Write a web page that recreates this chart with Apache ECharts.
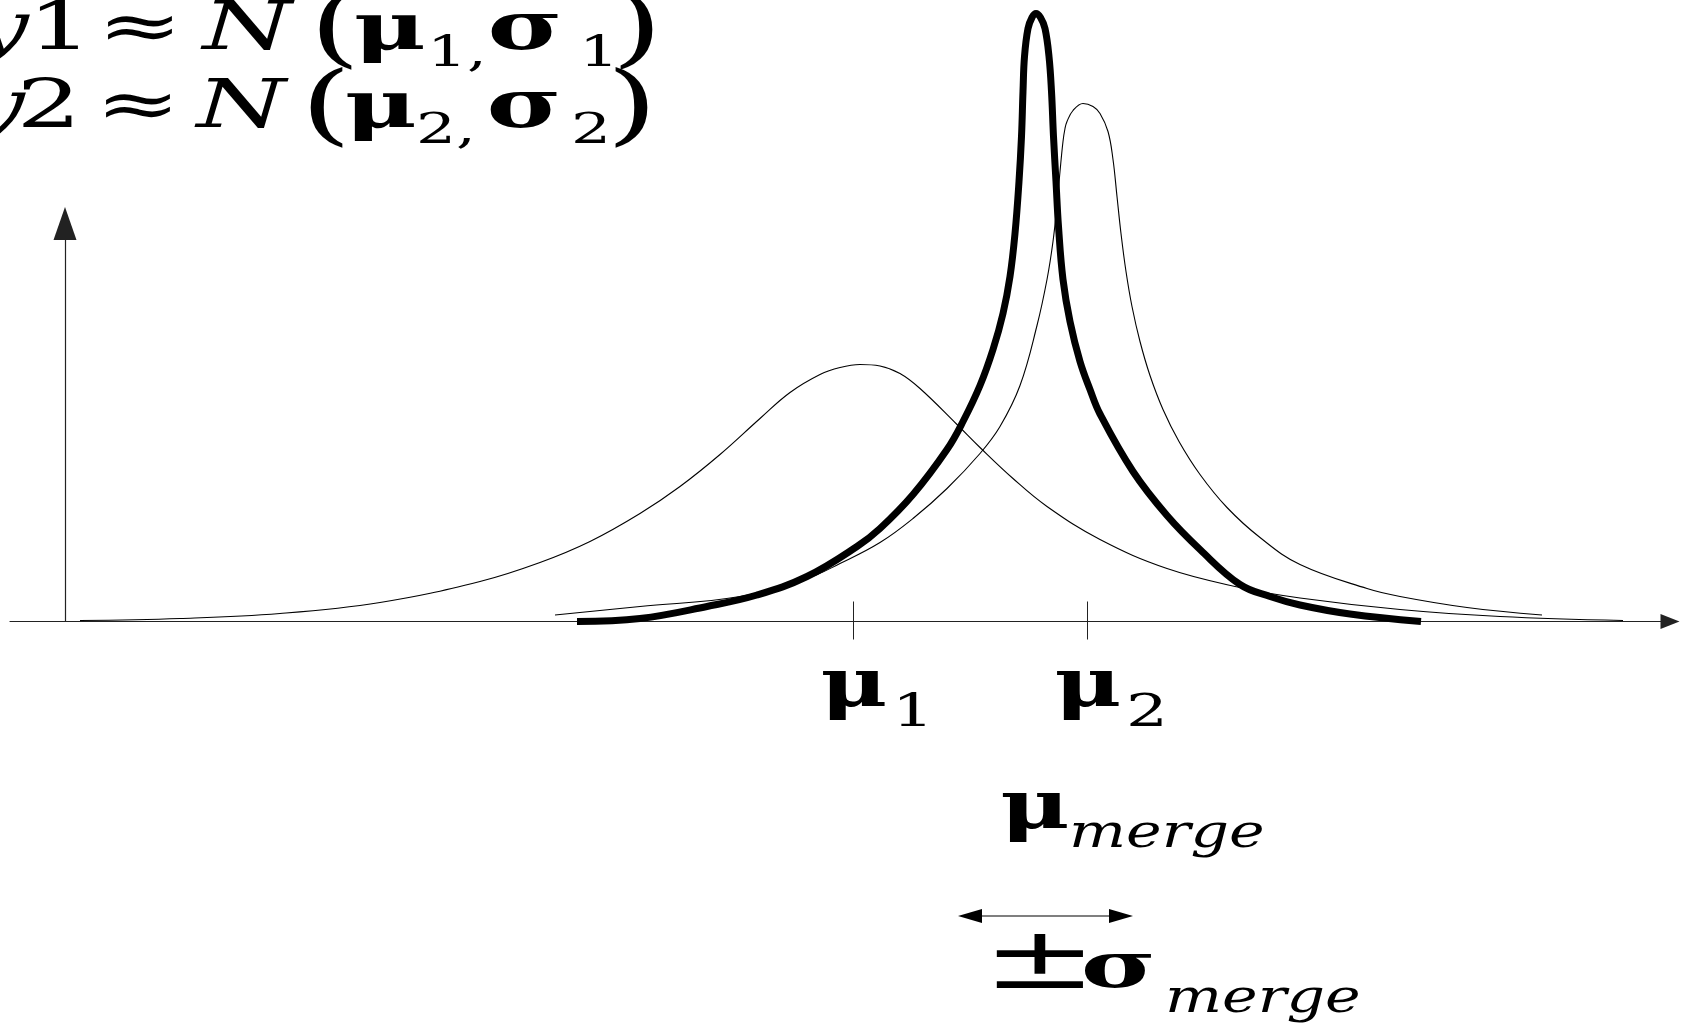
<!DOCTYPE html>
<html><head><meta charset="utf-8">
<script src="https://cdn.jsdelivr.net/npm/echarts@6/dist/echarts.min.js"></script>
<style>html,body{margin:0;padding:0;background:#fff;overflow:hidden}#c{width:1681px;height:1023px}</style>
</head><body><div id="c"></div>
<script>
// ---- data (x: arbitrary units along the axis, y: density) ----
const curve1X = [1.5, 11.5, 21.5, 31.5, 41.5, 47.5, 52.5, 57.5, 61.5, 65.5, 69.5, 72.5, 75.5, 77.5, 79.5, 81.5, 83.5, 85.5, 89.2, 91.5, 94.8, 98.2, 103.5, 110.2, 117.5, 123.5, 133.5, 143.5, 155.8];
const curve1Y = [0.01, 0.03, 0.08, 0.19, 0.40, 0.59, 0.80, 1.08, 1.35, 1.67, 2.03, 2.29, 2.47, 2.54, 2.57, 2.555, 2.48, 2.33, 1.97, 1.74, 1.43, 1.15, 0.82, 0.53, 0.34, 0.235, 0.12, 0.05, 0.01];

const curve2X = [49.0, 57.5, 67.5, 74.2, 77.5, 81.5, 84.8, 88.2, 91.5, 93.5, 95.5, 97.2, 98.2, 98.8, 99.2, 99.5, 99.8, 100.0, 100.2, 100.8, 101.8, 102.8, 103.5, 104.3, 104.8, 105.2, 105.6, 106.1, 106.7, 107.5, 108.5, 109.8, 111.4, 113.5, 116.2, 119.5, 123.5, 130.2, 133.5, 140.2, 147.7];
const curve2Y = [0.065, 0.15, 0.25, 0.43, 0.58, 0.79, 1.03, 1.33, 1.68, 1.95, 2.36, 2.96, 3.42, 3.80, 4.17, 4.50, 4.80, 4.93, 5.00, 5.11, 5.18, 5.15, 5.08, 4.90, 4.62, 4.25, 3.88, 3.50, 3.15, 2.80, 2.46, 2.12, 1.80, 1.47, 1.14, 0.84, 0.57, 0.33, 0.25, 0.14, 0.065];

const mergeX = [51.2, 57.5, 64.2, 69.2, 74.2, 79.2, 81.5, 84.8, 88.2, 89.8, 91.5, 92.8, 93.8, 94.5, 95.0, 95.4, 95.65, 95.8, 95.95, 96.3, 96.7, 97.1, 97.55, 98.0, 98.4, 98.65, 98.85, 99.1, 99.35, 99.8, 100.5, 101.5, 102.5, 103.5, 106.8, 110.2, 113.5, 117.5, 120.5, 123.5, 128.5, 135.6];
const mergeY = [0.0, 0.03, 0.15, 0.265, 0.45, 0.75, 0.93, 1.27, 1.72, 2.00, 2.36, 2.72, 3.08, 3.45, 3.88, 4.40, 4.85, 5.30, 5.65, 5.93, 6.04, 6.08, 6.04, 5.93, 5.65, 5.30, 4.85, 4.40, 3.95, 3.42, 3.00, 2.60, 2.32, 2.075, 1.50, 1.06, 0.72, 0.37, 0.25, 0.165, 0.075, 0.0];

const tickValues = [78.8, 102.2];
const tickSubscripts = ['1', '2'];

// ---- chart ----
function pairs(xs, ys) { return xs.map((x, i) => [x, ys[i]]); }
const SERIF = '"DejaVu Serif", "Liberation Serif", serif';

function txt(text, cx, baseline, size, italic, bold, sx, align) {
  return {
    type: 'text', x: cx, y: baseline - 0.346 * size, scaleX: sx || 1, silent: true,
    style: {
      text: text, fill: '#000',
      font: (italic ? 'italic ' : '') + (bold ? 'bold ' : '') + size + 'px ' + SERIF,
      align: align || 'center', textAlign: align || 'center',
      verticalAlign: 'middle', textVerticalAlign: 'middle'
    }
  };
}

const S = 1.5;
const graphics = [
  // line 1
  txt('y', 0, 55, 68, true, false, S),
  txt('1', 60, 55, 68, false, false, S),
  txt('≈', 140, 55, 68, false, false, S),
  txt('N', 247, 55, 68, true, false, S),
  txt('(', 335, 63.4, 88, false, false, S),
  txt('μ', 390, 55, 66, false, true, S),
  txt('1,', 457, 70, 42, false, false, S),
  txt('σ', 525, 55, 68, false, true, S),
  txt('1', 599, 70, 42, false, false, S),
  txt(')', 637, 63.4, 88, false, false, S),
  // line 2
  txt('y', -4, 133, 68, true, false, S),
  txt('2', 49, 133, 68, false, false, S),
  txt('≈', 138, 133, 68, false, false, S),
  txt('N', 241, 133, 68, true, false, S),
  txt('(', 326, 141.4, 88, false, false, S),
  txt('μ', 381, 133, 66, false, true, S),
  txt('2,', 446, 147, 42, false, false, S),
  txt('σ', 524, 133, 68, false, true, S),
  txt('2', 591, 147, 42, false, false, S),
  txt(')', 632, 141.4, 88, false, false, S),
  // mu merge
  txt('μ', 1035, 834, 68, false, true, 1.4),
  txt('merge', 1069, 851, 47, true, false, 1.28, 'left'),
  // double arrow
  { type: 'line', silent: true, shape: { x1: 978, y1: 916, x2: 1113, y2: 916 }, style: { stroke: '#000', lineWidth: 1.2 } },
  { type: 'polygon', silent: true, shape: { points: [[958, 916], [982, 909], [982, 923]] }, style: { fill: '#000' } },
  { type: 'polygon', silent: true, shape: { points: [[1133, 916], [1109, 909], [1109, 923]] }, style: { fill: '#000' } },
  // ± sigma merge
  txt('±', 1040, 995, 86, false, false, 1.6),
  txt('σ', 1118.5, 993, 64, false, true, 1.6),
  txt('merge', 1165, 1016, 47, true, false, 1.28, 'left')
];

const chart = echarts.init(document.getElementById('c'), null, { renderer: 'canvas' });
chart.setOption({
  animation: false,
  backgroundColor: '#fff',
  grid: { left: 10, right: 11, top: 223.5, bottom: 401.5, containLabel: false },
  xAxis: [
    {
      type: 'value', min: -5.5, max: 160.5,
      splitLine: { show: false },
      axisLine: { show: true, onZero: true, lineStyle: { color: '#222', width: 1.2 }, symbol: ['none', 'triangle'], symbolSize: [15, 19] },
      axisTick: { show: true, customValues: tickValues, length: 18, lineStyle: { color: '#222', width: 1 } },
      axisLabel: { show: false }
    },
    {
      type: 'value', min: -5.5, max: 160.5, position: 'bottom',
      splitLine: { show: false }, axisLine: { show: false },
      axisTick: { show: true, inside: true, customValues: tickValues, length: 20, lineStyle: { color: '#222', width: 1 } },
      axisLabel: { show: false }
    }
  ],
  yAxis: {
    type: 'value', min: 0, max: 3.98,
    splitLine: { show: false },
    axisLine: { show: true, onZero: true, lineStyle: { color: '#222', width: 1.2 }, symbol: ['none', 'triangle'], symbolSize: [23, 33] },
    axisTick: { show: false }, axisLabel: { show: false }
  },
  series: [
    { name: 'N(μ1,σ1)', type: 'line', data: pairs(curve1X, curve1Y), showSymbol: false, smooth: 0.4, clip: false, silent: true, lineStyle: { color: '#000', width: 1.1 } },
    { name: 'N(μ2,σ2)', type: 'line', data: pairs(curve2X, curve2Y), showSymbol: false, smooth: 0.4, clip: false, silent: true, lineStyle: { color: '#000', width: 1.1 } },
    { name: 'merge', type: 'line', data: pairs(mergeX, mergeY), showSymbol: false, smooth: 0.4, clip: false, silent: true, lineStyle: { color: '#000', width: 7 } }
  ]
});

// tick labels (μ with subscript) placed at the axis ticks through the axis scale
const axisY = chart.convertToPixel({ yAxisIndex: 0 }, 0);
tickValues.forEach(function (v, i) {
  const px = chart.convertToPixel({ xAxisIndex: 0 }, v);
  graphics.push(txt('μ', px + 1, axisY + 90, 68, false, true, 1.35));
  graphics.push(txt(tickSubscripts[i], px + 60, axisY + 108, 44, false, false, S));
});
chart.setOption({ graphic: graphics });
</script>
</body></html>
